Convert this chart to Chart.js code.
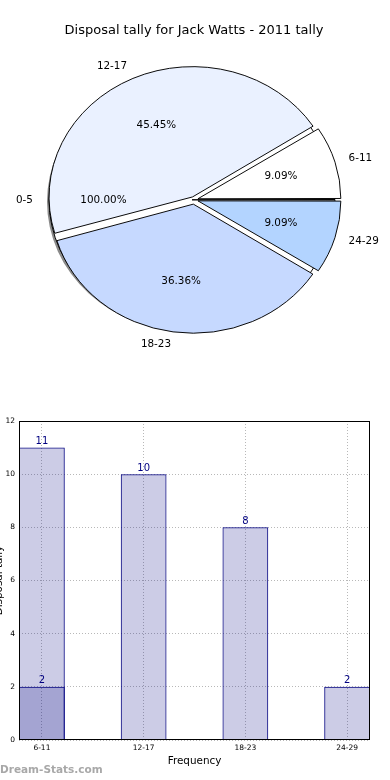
<!DOCTYPE html>
<html>
<head>
<meta charset="utf-8">
<script src="https://cdn.jsdelivr.net/npm/chart.js@4.4.1/dist/chart.umd.min.js"></script>
<style>
  body { margin: 0; width: 390px; height: 780px; overflow: hidden; background: #fff; position: relative; }
  #pieBack, #pieFront { position: absolute; left: 0; top: 1px; }
  #bars { position: absolute; left: -12px; top: 400px; }
  #mark { position: absolute; left: 0; top: 763px; font: bold 10.5px "DejaVu Sans"; color: #a8a8a8; }
</style>
</head>
<body>
<canvas id="pieBack" width="388" height="350"></canvas>
<canvas id="pieFront" width="388" height="350"></canvas>
<canvas id="bars" width="402" height="380"></canvas>
<div id="mark">Dream-Stats.com</div>
<script>
const title = 'Disposal tally for Jack Watts - 2011 tally';

// pie: first a single 0-5 wedge, then the other groups drawn over it
const backLabels = ['0-5'];
const backValues = [1];
const pieLabels = ['24-29', '18-23', '12-17', '6-11'];
const pieValues = [2, 8, 10, 2];
const pieColors = ['#b3d4ff', '#c6d9ff', '#eaf1ff', '#ffffff'];

// bars
const barLabels = ['6-11', '12-17', '18-23', '24-29'];
const barValues = [11, 10, 8, 2];
const barExtra = [2, null, null, null];
const yTicks = [0, 2, 4, 6, 8, 10, 12];

const FONT = 'DejaVu Sans';
const RATIO = 128 / 141;   // pie is drawn squashed like the original axes
const EXPLODE = 6;
const NAVY = '#000080';

function drawPieLabels(ctx, chart) {
  const meta = chart.getDatasetMeta(0);
  const ds = chart.data.datasets[0];
  const total = ds.data.reduce((a, b) => a + b, 0);
  ctx.save();
  ctx.fillStyle = '#000';
  ctx.font = '10.4px "' + FONT + '"';
  ctx.textBaseline = 'middle';
  meta.data.forEach((arc, i) => {
    const mid = (arc.startAngle + arc.endAngle) / 2;
    const R = arc.outerRadius;
    const c = Math.cos(mid), s = Math.sin(mid);
    const lr = 1.1 * R + EXPLODE, pr = 0.6 * R + EXPLODE;
    ctx.textAlign = c > 0 ? 'left' : 'right';
    ctx.fillText(chart.data.labels[i], arc.x + lr * c, arc.y + lr * s * RATIO);
    ctx.textAlign = 'center';
    const pct = (ds.data[i] / total * 100).toFixed(2) + '%';
    ctx.fillText(pct, arc.x + pr * c, arc.y + pr * s * RATIO);
  });
  ctx.restore();
}

let backChart;

const pieLook = {
  id: 'pieLook',
  beforeDatasetsDraw(chart, args, opts) {
    const arc = chart.getDatasetMeta(0).data[0];
    const ctx = chart.ctx;
    ctx.save();
    ctx.translate(arc.x, arc.y);
    ctx.scale(1, RATIO);
    ctx.translate(-arc.x, -arc.y);
    if (opts.shadow) {
      ctx.shadowColor = 'rgba(60,60,60,0.6)';
      ctx.shadowOffsetX = -2;
      ctx.shadowOffsetY = 2;
      ctx.shadowBlur = 0;
      // shadow only under the fill, not the outline
      const stroke = ctx.stroke;
      ctx.stroke = function () {
        this.save();
        this.shadowColor = 'rgba(0,0,0,0)';
        stroke.apply(this, arguments);
        this.restore();
      };
      chart.$stroke = stroke;
    }
  },
  afterDatasetsDraw(chart, args, opts) {
    const ctx = chart.ctx;
    if (chart.$stroke) { delete ctx.stroke; chart.$stroke = null; }
    ctx.restore();
    if (opts.labels) {
      drawPieLabels(ctx, backChart);
      drawPieLabels(ctx, chart);
    }
  }
};

const pieOptions = (extra) => Object.assign({
  responsive: false,
  animation: false,
  events: [],
  rotation: 90
}, extra);

// offset so that every wedge moves out by EXPLODE px (chart.js divides it up)
function explodeFor(values, px) {
  const total = values.reduce((a, b) => a + b, 0);
  return (c) => {
    const circ = values[c.dataIndex] / total * Math.PI * 2;
    const fix = 1 - Math.sin(Math.min(Math.PI, circ));
    return px * 4 / (1 + fix);
  };
}

backChart = new Chart(document.getElementById('pieBack'), {
  type: 'pie',
  data: {
    labels: backLabels,
    datasets: [{
      data: backValues,
      backgroundColor: '#ffffff',
      borderColor: '#000',
      borderWidth: 1,
      radius: 141,
      offset: explodeFor(backValues, 4)
    }]
  },
  options: pieOptions({
    plugins: {
      legend: { display: false },
      tooltip: { enabled: false },
      pieLook: { shadow: true, labels: false },
      title: {
        display: true,
        text: title,
        color: '#000',
        font: { family: FONT, size: 13, weight: 'normal' },
        padding: { top: 22, bottom: 10 }
      }
    }
  }),
  plugins: [pieLook]
});

new Chart(document.getElementById('pieFront'), {
  type: 'pie',
  data: {
    labels: pieLabels,
    datasets: [{
      data: pieValues,
      backgroundColor: pieColors,
      borderColor: '#000',
      borderWidth: 1,
      radius: 141,
      offset: explodeFor(pieValues, EXPLODE)
    }]
  },
  options: pieOptions({
    layout: { padding: { top: 22 + 13 * 1.2 + 10 } },
    plugins: {
      legend: { display: false },
      tooltip: { enabled: false },
      pieLook: { shadow: false, labels: true }
    }
  }),
  plugins: [pieLook]
});

const frame = {
  id: 'frame',
  afterDraw(chart) {
    const a = chart.chartArea, ctx = chart.ctx;
    ctx.save();
    ctx.strokeStyle = '#000';
    ctx.lineWidth = 1;
    ctx.strokeRect(Math.round(a.left) + 0.5, Math.round(a.top) + 0.5,
      Math.round(a.right - a.left) - 1, Math.round(a.bottom - a.top) - 1);
    ctx.restore();
  }
};

const valueLabels = {
  id: 'valueLabels',
  afterDatasetsDraw(chart) {
    const ctx = chart.ctx;
    ctx.save();
    ctx.fillStyle = NAVY;
    ctx.font = '10px "' + FONT + '"';
    ctx.textAlign = 'center';
    ctx.textBaseline = 'bottom';
    chart.data.datasets.forEach((ds, di) => {
      chart.getDatasetMeta(di).data.forEach((bar, i) => {
        const v = ds.data[i];
        if (!v || v.y == null) return;
        ctx.fillText(String(v.y), bar.x, bar.y - 1);
      });
    });
    ctx.restore();
  }
};

const toPoints = (arr) => arr.map((v, i) => ({ x: i, y: v })).filter(p => p.y != null);
const gridStyle = { color: '#b8b8b8', lineWidth: 1, drawTicks: false };
const barStyle = {
  backgroundColor: 'rgba(0,0,128,0.2)',
  borderColor: NAVY,
  borderWidth: 1,
  barPercentage: 0.45,
  categoryPercentage: 1,
  grouped: false
};

new Chart(document.getElementById('bars'), {
  type: 'bar',
  data: {
    datasets: [
      Object.assign({ data: toPoints(barValues) }, barStyle),
      Object.assign({ data: toPoints(barExtra) }, barStyle)
    ]
  },
  options: {
    responsive: false,
    animation: false,
    events: [],
    layout: { padding: { top: 21, right: 20, left: 0, bottom: 0 } },
    plugins: { legend: { display: false }, tooltip: { enabled: false } },
    scales: {
      x: {
        type: 'linear',
        offset: false,
        min: -0.225,
        max: barLabels.length - 1 + 0.225,
        afterBuildTicks: (s) => { s.ticks = barLabels.map((_, i) => ({ value: i })); },
        afterFit: (s) => { s.height = 40; },
        grid: Object.assign({ offset: false }, gridStyle),
        border: { display: false, dash: [1, 2] },
        ticks: {
          autoSkip: false,
          maxRotation: 0,
          padding: 4,
          color: '#000',
          font: { family: FONT, size: 7.5 },
          callback: (v) => barLabels[v]
        },
        title: {
          display: true,
          text: 'Frequency',
          color: '#000',
          font: { family: FONT, size: 10.4 },
          padding: { top: 0, bottom: 12 }
        }
      },
      y: {
        min: 0,
        max: 12,
        afterBuildTicks: (s) => { s.ticks = yTicks.map(v => ({ value: v })); },
        afterFit: (s) => { s.width = 31; },
        grid: gridStyle,
        border: { display: false, dash: [1, 2] },
        ticks: {
          padding: 4,
          color: '#000',
          font: { family: FONT, size: 7.5 }
        },
        title: {
          display: true,
          text: 'Disposal tally',
          color: '#000',
          font: { family: FONT, size: 10.4 },
          padding: { top: 5, bottom: 4 }
        }
      }
    }
  },
  plugins: [frame, valueLabels]
});
</script>
</body>
</html>
